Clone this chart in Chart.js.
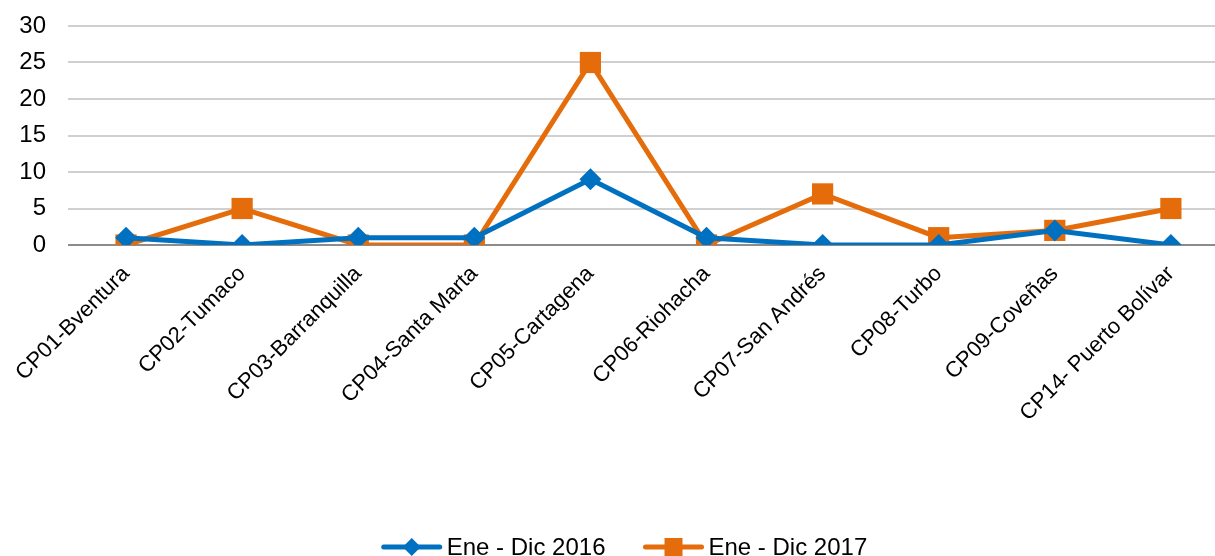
<!DOCTYPE html>
<html>
<head>
<meta charset="utf-8">
<script src="https://cdn.jsdelivr.net/npm/chart.js@4"></script>
<style>
  html, body { margin: 0; padding: 0; background: #fff; overflow: hidden; }
  canvas { display: block; }
</style>
</head>
<body>
<canvas id="chart" width="1215" height="556"></canvas>
<script>
// categories (capitanias) and counts per period
const categories = ['CP01-Bventura', 'CP02-Tumaco', 'CP03-Barranquilla', 'CP04-Santa Marta', 'CP05-Cartagena',
    'CP06-Riohacha', 'CP07-San Andrés', 'CP08-Turbo', 'CP09-Coveñas', 'CP14- Puerto Bolívar'];
const ene2016 = [1, 0, 1, 1, 9, 1, 0, 0, 2, 0];
const ene2017 = [0, 5, 0, 0, 25, 0, 7, 1, 2, 5];
const yTicks = [0, 5, 10, 15, 20, 25, 30];

const BLUE = '#0070C0';
const ORANGE = '#E46C0A';
const FONT = "'Liberation Sans', Arial, sans-serif";

// the original plot runs a bit past the right edge of the picture
const X_MIN = -0.5, X_MAX = 9.38;

// legend drawn as line + marker like the office style
const legendPlugin = {
    id: 'lineLegend',
    afterDraw(chart) {
        const ctx = chart.ctx;
        const sets = chart.data.datasets;
        ctx.save();
        ctx.font = '24px ' + FONT;
        const lineW = 60, gap = 5, itemGap = 38;
        let total = 0;
        sets.forEach((ds, i) => {
            total += lineW + gap + ctx.measureText(ds.label).width;
            if (i < sets.length - 1) total += itemGap;
        });
        let x = chart.width / 2 + 17 - total / 2;
        const y = 547;
        sets.forEach(ds => {
            ctx.strokeStyle = ds.borderColor;
            ctx.lineWidth = 5;
            ctx.lineCap = 'round';
            ctx.beginPath();
            ctx.moveTo(x + 2, y);
            ctx.lineTo(x + lineW - 2, y);
            ctx.stroke();
            ctx.fillStyle = ds.borderColor;
            const cx = x + lineW / 2;
            if (ds.pointStyle === 'rectRot') {
                ctx.beginPath();
                ctx.moveTo(cx, y - 9);
                ctx.lineTo(cx + 9, y);
                ctx.lineTo(cx, y + 9);
                ctx.lineTo(cx - 9, y);
                ctx.closePath();
                ctx.fill();
            } else {
                ctx.fillRect(cx - 9, y - 9, 18, 18);
            }
            x += lineW + gap;
            ctx.fillStyle = '#000';
            ctx.textBaseline = 'middle';
            ctx.textAlign = 'left';
            ctx.fillText(ds.label, x, y + 1);
            x += ctx.measureText(ds.label).width + itemGap;
        });
        ctx.restore();
    }
};

document.addEventListener("DOMContentLoaded", (event) => {
    var ctx = document.getElementById('chart');
    var chart = new Chart(ctx, {
        type: 'line',
        data: {
            datasets: [{
                label: 'Ene - Dic 2016',
                data: ene2016.map((v, i) => ({ x: i, y: v })),
                borderColor: BLUE,
                backgroundColor: BLUE,
                borderWidth: 5,
                pointStyle: 'rectRot',
                pointRadius: 11,
                pointHoverRadius: 11,
                pointBorderWidth: 0,
                tension: 0
            }, {
                label: 'Ene - Dic 2017',
                data: ene2017.map((v, i) => ({ x: i, y: v })),
                borderColor: ORANGE,
                backgroundColor: ORANGE,
                borderWidth: 5,
                pointStyle: 'rect',
                pointRadius: 15,
                pointHoverRadius: 15,
                pointBorderWidth: 0,
                tension: 0
            }]
        },
        options: {
            responsive: false,
            animation: false,
            layout: { autoPadding: false, padding: { top: 26, bottom: 0, left: 0, right: 0 } },
            plugins: {
                legend: { display: false },
                tooltip: { enabled: false }
            },
            scales: {
                x: {
                    type: 'linear',
                    min: X_MIN,
                    max: X_MAX,
                    afterBuildTicks(scale) { scale.ticks = categories.map((c, i) => ({ value: i })); },
                    grid: { display: false },
                    border: { display: false },
                    ticks: {
                        color: '#000',
                        font: { family: FONT, size: 22 },
                        minRotation: 45,
                        maxRotation: 45,
                        autoSkip: false,
                        padding: 8,
                        callback: (v) => categories[v]
                    },
                    afterFit(scale) {
                        scale.height = 556 - 245;
                        scale.paddingLeft = 0;
                        scale.paddingRight = 0;
                    }
                },
                y: {
                    min: 0,
                    max: 30,
                    afterBuildTicks(scale) { scale.ticks = yTicks.map(v => ({ value: v })); },
                    grid: {
                        drawTicks: false,
                        lineWidth: 2,
                        color: (c) => c.tick && c.tick.value === 0 ? '#8c8c8c' : '#d0d0d0'
                    },
                    border: { display: false },
                    ticks: {
                        color: '#000',
                        font: { family: FONT, size: 24 },
                        padding: 22
                    },
                    afterFit(scale) {
                        scale.width = 68;
                        scale.paddingTop = 0;
                        scale.paddingBottom = 0;
                    }
                }
            }
        },
        plugins: [legendPlugin]
    });
})
</script>
</body>
</html>
